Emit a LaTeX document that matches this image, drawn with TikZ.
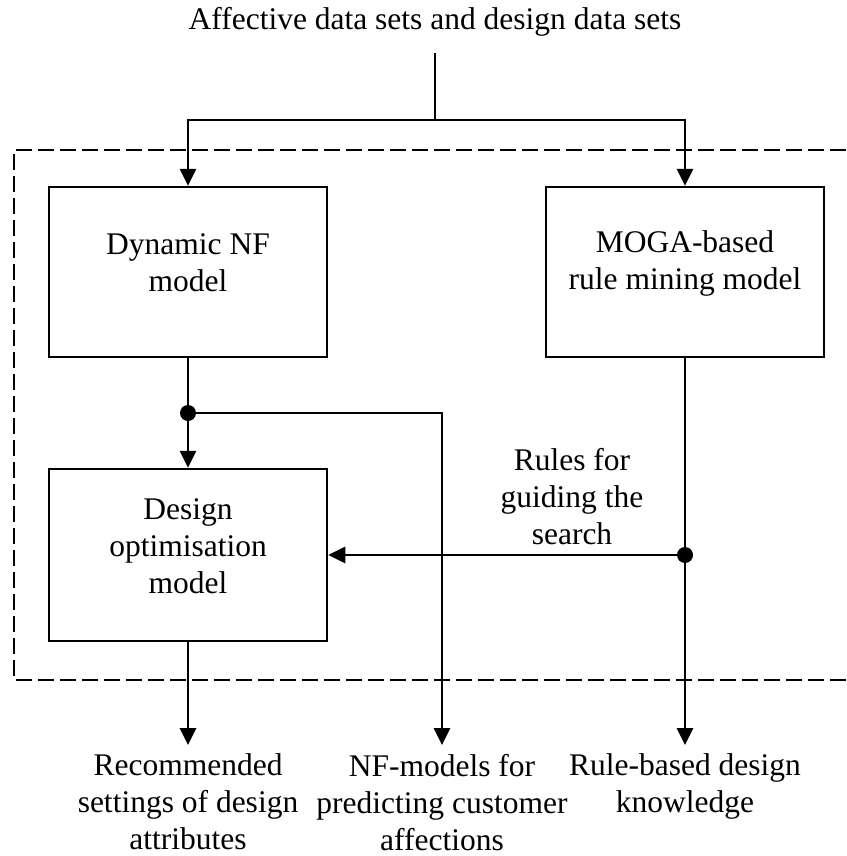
\documentclass[tikz,border=0pt]{standalone}
\usepackage{fontspec}
\setmainfont{Liberation Serif}
\usetikzlibrary{arrows.meta}
\begin{document}
\begin{tikzpicture}[x=1pt,y=-1pt,
  every node/.style={font=\fontsize{31.5}{37}\selectfont, align=center, inner sep=0pt},
  line/.style={line width=2.8pt},
  arr/.style={line, -{Triangle[length=17pt,width=16pt]}},
  box/.style={draw, line width=2.5pt, minimum width=278pt, minimum height=170pt},
  boxtext/.style={yshift=9pt},
  frame/.style={line width=2.2pt, dash pattern=on 16pt off 6pt},
  dot/.style={circle, fill, minimum size=16pt, inner sep=0pt},
  outtext/.style={anchor=north, outer ysep=9pt}]
\useasboundingbox (0,0) rectangle (846,856);

% system boundary (open to the right)
\draw[frame] (846,150) -- (14,150) -- (14,680) -- (846,680);

% input data
\node[anchor=base] (src) at (435,30) {Affective data sets and design data sets};
\coordinate (split) at (435,120);

% models
\node[box, label={[boxtext]center:Dynamic NF\\model}] (b1) at (188,272) {};
\node[box, label={[boxtext]center:MOGA-based\\rule mining model}] (b2) at (685,272) {};
\node[box, minimum height=172pt, label={[boxtext]center:Design\\optimisation\\model}] (b3) at (188,555) {};

% junctions
\node[dot] (j1) at (188,413) {};
\node[dot] (j2) at (b2.south |- b3.east) {};

% outputs
\node[outtext] (o1) at (188,745) {Recommended\\settings of design\\attributes};
\node[outtext] (o2) at (442,745) {NF-models for\\predicting customer\\affections};
\node[outtext] (o3) at (685,745) {Rule-based design\\knowledge};

% edge label
\node[anchor=north] (rules) at (572,448.5) {Rules for\\guiding the\\search};

% connectors
\draw[line] ([yshift=-16pt]src.south) -- (split);
\draw[arr] (split) -| (b1.north);
\draw[arr] (split) -| (b2.north);
\draw[line] (b1.south) -- (j1.center);
\draw[arr] (j1.center) -- (b3.north);
\draw[arr] (j1.center) -| (o2.north);
\draw[arr] (b3.south) -- (o1.north);
\draw[arr] (b2.south) -- (o3.north);
\draw[arr] (j2.center) -- (b3.east);
\end{tikzpicture}
\end{document}
